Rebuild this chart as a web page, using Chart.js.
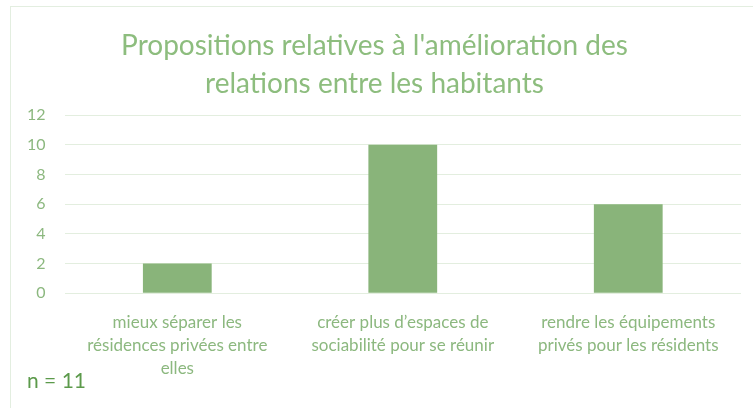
<!DOCTYPE html>
<html>
<head>
<meta charset="utf-8">
<script src="https://cdn.jsdelivr.net/npm/chart.js@4/dist/chart.umd.min.js"></script>
<style>
  html, body { margin: 0; padding: 0; background: #fff; }
  #wrap { position: relative; width: 753px; height: 408px; overflow: hidden; }
  #frame { position: absolute; left: 10px; top: 6px; width: 760px; height: 420px; border: 1px solid #e3eee0; box-sizing: border-box; }
  #myChart { position: absolute; left: 0; top: 0; }
  #note { position: absolute; left: 27px; top: 367px; font-family: Lato, sans-serif; font-size: 21px; color: #5c9a4b; }
</style>
</head>
<body>
<div id="wrap">
  <div id="frame"></div>
  <canvas id="myChart" width="753" height="408"></canvas>
  <div id="note">n = 11</div>
</div>
<script>
const titleLines = ["Propositions relatives à l'amélioration des", "relations entre les habitants"];
const categories = [
  ["mieux séparer les", "résidences privées entre", "elles"],
  ["créer plus d’espaces de", "sociabilité pour se réunir"],
  ["rendre les équipements", "privés pour les résidents"]
];
const counts = [2, 10, 6];
const yTicks = [0, 2, 4, 6, 8, 10, 12];

const ctx = document.getElementById("myChart");

new Chart(ctx, {
  type: "bar",
  data: {
    labels: categories,
    datasets: [
      {
        label: "Nombre",
        data: counts,
        backgroundColor: "#89b47a",
        borderWidth: 0,
        barPercentage: 0.61,
        categoryPercentage: 0.5,
      },
    ],
  },
  options: {
    responsive: false,
    animation: false,
    layout: { padding: { top: 14, left: 8, right: 12, bottom: 18 } },
    plugins: {
      legend: { display: false },
      tooltip: { enabled: false },
      title: {
        display: true,
        text: titleLines,
        color: "#8dbd7e",
        font: { family: "Lato", size: 28, weight: "normal", lineHeight: 1.36 },
        padding: { top: 13, bottom: 12 },
      },
    },
    scales: {
      x: {
        grid: { display: false },
        border: { display: false },
        ticks: {
          color: "#8cb87f",
          font: { family: "Lato", size: 17, lineHeight: 1.35 },
          maxRotation: 0,
          autoSkip: false,
          padding: 10,
        },
      },
      y: {
        min: 0,
        max: 12,
        afterBuildTicks: (scale) => {
          scale.ticks = yTicks.map((v) => ({ value: v }));
        },
        grid: { color: "#e3eedf", lineWidth: 1, drawTicks: false },
        border: { display: false },
        ticks: {
          color: "#8cb87f",
          font: { family: "Lato", size: 16 },
          padding: 19,
        },
      },
    },
  },
});
</script>
</body>
</html>
